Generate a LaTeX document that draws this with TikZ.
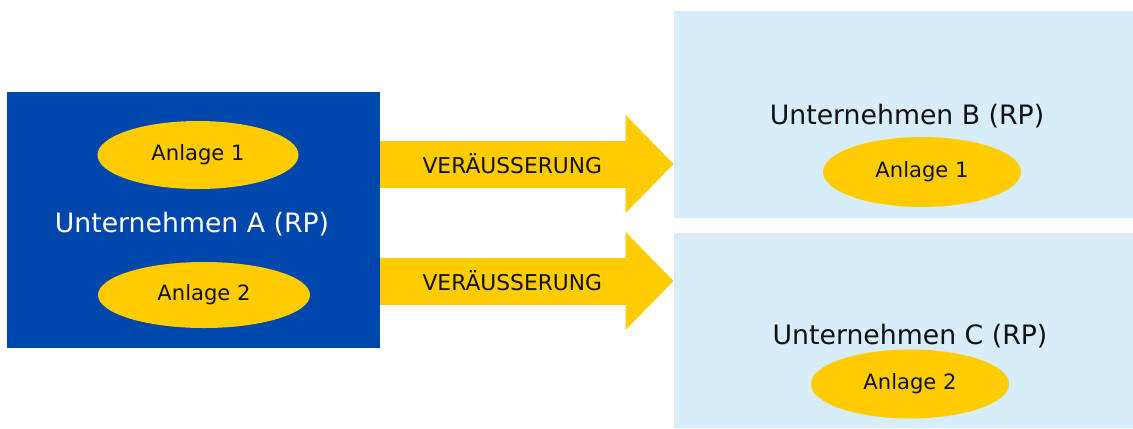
\documentclass[tikz,border=0pt]{standalone}
\usepackage{fontspec}
\setmainfont{DejaVu Sans}
\usetikzlibrary{arrows.meta,positioning,shapes.geometric}
\definecolor{firmblue}{HTML}{0047AB}
\definecolor{assetyellow}{HTML}{FFCC00}
\definecolor{paleblue}{HTML}{D7EDF9}
\definecolor{inkgray}{HTML}{111111}

\begin{document}
\begin{tikzpicture}[
    x=1cm,
    y=1cm,
    firm/.style={rectangle, inner sep=0pt, fill=paleblue, text=inkgray, font=\fontsize{15.2}{18}\selectfont},
    asset/.style={ellipse, inner sep=0pt, fill=assetyellow, text=inkgray, font=\fontsize{12}{14}\selectfont},
    transfer/.style={draw=assetyellow, line width=9.4mm, -{Triangle[length=9.6mm, width=19mm]}},
    tag/.style={text=inkgray, font=\fontsize{12.4}{14}\selectfont}
  ]
    \useasboundingbox (0,0) rectangle (22.66,8.56);

    % seller
    \node[firm, fill=firmblue, minimum width=7.46cm, minimum height=5.12cm] (firmA) at (3.87,4.16) {};
    \node[firm, fill=none, text=white] (nameA) at (3.84,4.08) {Unternehmen A (RP)};
    \node[asset, minimum width=4.02cm, minimum height=1.36cm] (a1) at (3.96,5.46) {Anlage 1};
    \node[asset, minimum width=4.24cm, minimum height=1.32cm] (a2) at (4.08,2.66) {Anlage 2};

    % buyers
    \node[firm, minimum width=9.18cm, minimum height=4.14cm] (firmB) at (18.07,6.27) {};
    \node[firm, minimum width=9.18cm, minimum height=3.9cm] (firmC) at (18.07,1.95) {};
    \node[firm] (nameB) at (18.14,6.24) {Unternehmen B (RP)};
    \node[firm] (nameC) at (18.2,1.84) {Unternehmen C (RP)};
    \node[asset, minimum width=3.96cm, minimum height=1.4cm] (b1) at (18.44,5.12) {Anlage 1};
    \node[asset, minimum width=3.96cm, minimum height=1.38cm] (c2) at (18.2,0.88) {Anlage 2};

    \draw[transfer] ([yshift=11.2mm]firmA.east) -- node[tag, pos=0.45] {VERÄUSSERUNG} ([yshift=11.2mm]firmA.east -| firmB.west);
    \draw[transfer] ([yshift=-12.2mm]firmA.east) -- node[tag, pos=0.45] {VERÄUSSERUNG} ([yshift=-12.2mm]firmA.east -| firmC.west);
  \end{tikzpicture}
\end{document}
